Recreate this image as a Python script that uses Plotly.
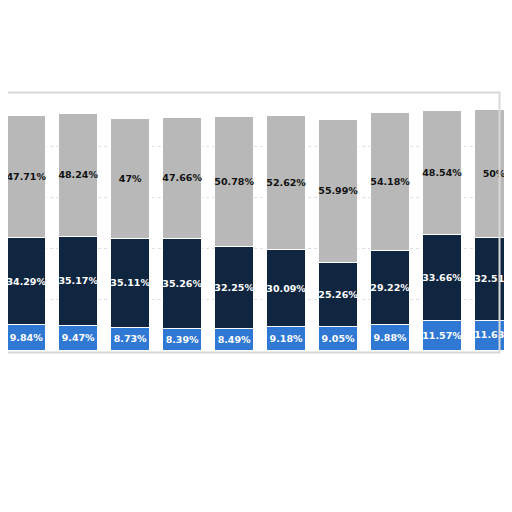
import plotly.graph_objects as go

# categories (years are cut off in the source crop)
cats = list(range(11))
blue_vals = [9.84, 9.47, 8.73, 8.39, 8.49, 9.18, 9.05, 9.88, 11.57, 11.63, 11.8]
navy_vals = [34.29, 35.17, 35.11, 35.26, 32.25, 30.09, 25.26, 29.22, 33.66, 32.51, 33.0]
gray_vals = [47.71, 48.24, 47.0, 47.66, 50.78, 52.62, 55.99, 54.18, 48.54, 50.0, 49.0]


def fmt(v):
    return f"{v:g}%"


fig = go.Figure()
for vals, color, tcolor in [
    (blue_vals, "#2f78d4", "white"),
    (navy_vals, "#10253f", "white"),
    (gray_vals, "#b8b8b8", "#111111"),
]:
    fig.add_trace(go.Bar(
        x=cats, y=vals,
        marker=dict(color=color, line=dict(color="white", width=1)),
        width=0.75,
        text=[fmt(v) for v in vals],
        textposition="inside",
        insidetextanchor="middle",
        textangle=0,
        textfont=dict(color=tcolor, size=10, family="DejaVu Sans, Arial", weight="bold"),
        cliponaxis=True,
    ))

fig.add_shape(type="rect", xref="paper", yref="paper",
              x0=-0.01, x1=0.96, y0=-0.01, y1=1.01,
              line=dict(color="#d8d8d8", width=2), fillcolor="rgba(0,0,0,0)")

fig.update_layout(
    barmode="stack",
    width=512, height=512,
    margin=dict(l=0, r=0, t=87, b=170),
    showlegend=False,
    plot_bgcolor="white", paper_bgcolor="white",
    uniformtext=dict(minsize=8, mode="show"),
    xaxis=dict(range=[-0.35, 9.5], showticklabels=False, showgrid=False,
               zeroline=False),
    yaxis=dict(range=[0, 100], showticklabels=False, gridcolor="#e0e0e0",
               griddash="dot", tickvals=[20, 40, 60, 80], zeroline=False),
)

fig.write_html("out.html")
